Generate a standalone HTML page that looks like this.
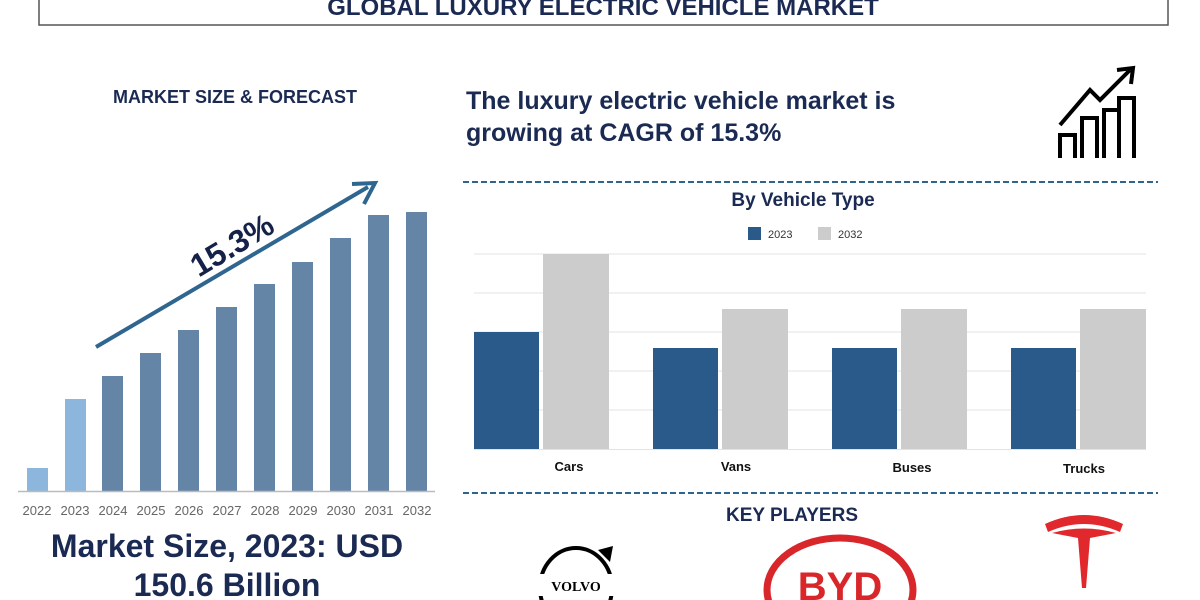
<!DOCTYPE html><html><head><style>html,body{margin:0;background:#fff;width:1200px;height:600px;overflow:hidden;font-family:"Liberation Sans",sans-serif}svg{display:block}</style></head><body>
<svg width="1200" height="600" xmlns="http://www.w3.org/2000/svg" font-family="Liberation Sans, sans-serif">
<rect x="39" y="-20" width="1129" height="45" fill="none" stroke="#555" stroke-width="1.5"/>
<text x="603" y="15" text-anchor="middle" font-size="24" font-weight="bold" fill="#1b2a52">GLOBAL LUXURY ELECTRIC VEHICLE MARKET</text>
<text x="235" y="103" text-anchor="middle" font-size="18" font-weight="bold" fill="#1b2a52">MARKET SIZE &amp; FORECAST</text>
<g fill="#6585a6">
<rect x="27" y="468" width="21" height="23" fill="#8db6dc"/><rect x="65" y="399" width="21" height="92" fill="#8db6dc"/>
<rect x="102" y="376" width="21" height="115"/><rect x="140" y="353" width="21" height="138"/><rect x="178" y="330" width="21" height="161"/><rect x="216" y="307" width="21" height="184"/><rect x="254" y="284" width="21" height="207"/><rect x="292" y="262" width="21" height="229"/><rect x="330" y="238" width="21" height="253"/><rect x="368" y="215" width="21" height="276"/><rect x="406" y="212" width="21" height="279"/>
</g>
<line x1="18" y1="491.5" x2="435" y2="491.5" stroke="#bbb" stroke-width="1.5"/>
<g font-size="13" fill="#666" text-anchor="middle"><text x="37" y="515">2022</text><text x="75" y="515">2023</text><text x="113" y="515">2024</text><text x="151" y="515">2025</text><text x="189" y="515">2026</text><text x="227" y="515">2027</text><text x="265" y="515">2028</text><text x="303" y="515">2029</text><text x="341" y="515">2030</text><text x="379" y="515">2031</text><text x="417" y="515">2032</text></g>
<line x1="96" y1="347" x2="368" y2="187" stroke="#2f6690" stroke-width="4"/>
<polyline points="352,184 375,183 364,204" fill="none" stroke="#2f6690" stroke-width="4"/>
<text x="232" y="256" text-anchor="middle" font-size="32" font-weight="bold" fill="#16214a" transform="rotate(-31 232 245)">15.3%</text>
<text x="227" y="557" text-anchor="middle" font-size="32" font-weight="bold" fill="#1b2a52">Market Size, 2023: USD</text>
<text x="227" y="596" text-anchor="middle" font-size="32" font-weight="bold" fill="#1b2a52">150.6 Billion</text>
<text x="466" y="109" font-size="25" font-weight="bold" fill="#1b2a52">The luxury electric vehicle market is</text>
<text x="466" y="141" font-size="25" font-weight="bold" fill="#1b2a52">growing at CAGR of 15.3%</text>
<g fill="none" stroke="#000" stroke-width="4"><polyline points="1060,158 1060,135 1075,135 1075,158"/><polyline points="1082,158 1082,118 1097,118 1097,158"/><polyline points="1104,158 1104,110 1119,110 1119,158"/><polyline points="1060,125 1090,90 1100,100 1130,70"/><polyline points="1117,70 1133,68 1131,84"/><polyline points="1119,158 1119,98 1134,98 1134,158"/></g>
<line x1="463" y1="182" x2="1158" y2="182" stroke="#2f6690" stroke-width="2" stroke-dasharray="6,3"/>
<line x1="463" y1="493" x2="1158" y2="493" stroke="#2f6690" stroke-width="2" stroke-dasharray="6,3"/>
<text x="803" y="206" text-anchor="middle" font-size="19" font-weight="bold" fill="#1b2a52">By Vehicle Type</text>
<rect x="748" y="227" width="13" height="13" fill="#2a5a8a"/><text x="768" y="238" font-size="11" fill="#333">2023</text>
<rect x="818" y="227" width="13" height="13" fill="#ccc"/><text x="838" y="238" font-size="11" fill="#333">2032</text>
<g stroke="#e3e3e3"><line x1="474" y1="254" x2="1146" y2="254"/><line x1="474" y1="293" x2="1146" y2="293"/><line x1="474" y1="332" x2="1146" y2="332"/><line x1="474" y1="371" x2="1146" y2="371"/><line x1="474" y1="410" x2="1146" y2="410"/><line x1="474" y1="449.5" x2="1146" y2="449.5"/></g>
<g fill="#2a5a8a"><rect x="474" y="332" width="65" height="117"/><rect x="653" y="348" width="65" height="101"/><rect x="832" y="348" width="65" height="101"/><rect x="1011" y="348" width="65" height="101"/></g>
<g fill="#cccccc"><rect x="543" y="254" width="66" height="195"/><rect x="722" y="309" width="66" height="140"/><rect x="901" y="309" width="66" height="140"/><rect x="1080" y="309" width="66" height="140"/></g>
<g font-size="13" font-weight="bold" fill="#111" text-anchor="middle"><text x="569" y="471">Cars</text><text x="736" y="471">Vans</text><text x="912" y="472">Buses</text><text x="1084" y="473">Trucks</text></g>
<text x="792" y="521" text-anchor="middle" font-size="19" font-weight="bold" fill="#1b2a52">KEY PLAYERS</text>
<ellipse cx="576" cy="588" rx="36" ry="40" fill="none" stroke="#000" stroke-width="4"/>
<polygon points="598,550 613,546 610,562" fill="#000"/>
<rect x="538" y="574" width="76" height="22" fill="#fff"/>
<text x="576" y="591" text-anchor="middle" font-size="14" font-weight="bold" font-family="Liberation Serif, serif">VOLVO</text>
<ellipse cx="840" cy="590" rx="73" ry="52" fill="none" stroke="#d9262a" stroke-width="7"/>
<text x="840" y="600" text-anchor="middle" font-size="40" font-weight="bold" fill="#d9262a">BYD</text>
<path d="M1045,524 Q1084,506 1123,524 L1120,532 Q1084,516 1048,532Z" fill="#e0282d"/>
<path d="M1052,533 Q1084,524 1116,533 L1090,538 L1086,588 L1082,588 L1078,538Z" fill="#e0282d"/>
</svg></body></html>
